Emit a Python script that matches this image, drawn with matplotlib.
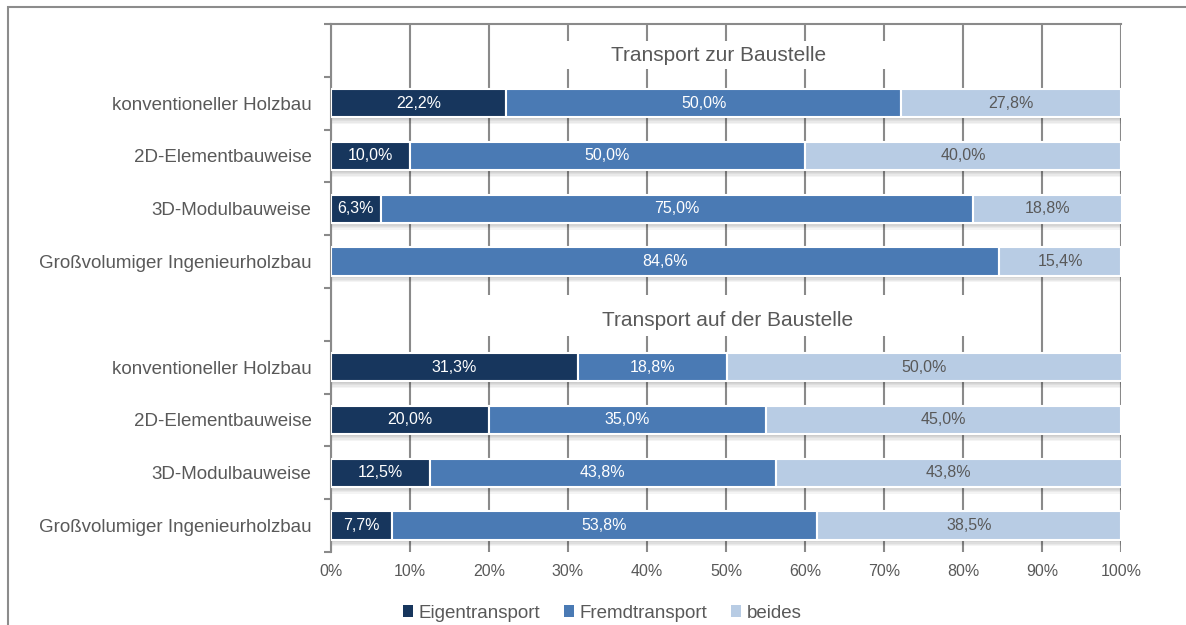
import matplotlib.pyplot as plt
from matplotlib.patches import Patch, Rectangle

plt.rcParams['font.family'] = ['Liberation Sans', 'DejaVu Sans']

# data
categories = ["konventioneller Holzbau", "2D-Elementbauweise",
              "3D-Modulbauweise", "Großvolumiger Ingenieurholzbau"]
group_titles = ["Transport zur Baustelle", "Transport auf der Baustelle"]
series_names = ["Eigentransport", "Fremdtransport", "beides"]

zur_eigen = [22.2, 10.0, 6.3, 0.0]
zur_fremd = [50.0, 50.0, 75.0, 84.6]
zur_beides = [27.8, 40.0, 18.8, 15.4]

auf_eigen = [31.3, 20.0, 12.5, 7.7]
auf_fremd = [18.8, 35.0, 43.8, 53.8]
auf_beides = [50.0, 45.0, 43.8, 38.5]

x_ticks = [0, 10, 20, 30, 40, 50, 60, 70, 80, 90, 100]

colors = ["#17365D", "#4A7AB4", "#B8CCE4"]
label_colors = ["white", "white", "#595959"]
grey = "#595959"
line_grey = "#8A8A8A"

fig = plt.figure(figsize=(11.86, 6.25), dpi=100)
ax = fig.add_axes([331/1186, 1-552/625, 790/1186, 528/625])

# outer frame of the picture
fig.patches.append(Rectangle((8/1186, -0.2), 1.2, 1.2 - 7/625, transform=fig.transFigure,
                             fill=False, edgecolor="#8C8C8C", linewidth=1.5))

groups = [(zur_eigen, zur_fremd, zur_beides), (auf_eigen, auf_fremd, auf_beides)]
rows = []
ylabels = []
for g, (e, f, b) in enumerate(groups):
    start = g * 5 + 1
    for i in range(len(categories)):
        rows.append((start + i, [e[i], f[i], b[i]]))
        ylabels.append(categories[i])

bar_h = 0.54
for y, vals in rows:
    left = 0
    for k, v in enumerate(vals):
        if v > 0:
            # soft shadow under each segment
            for s in range(1, 6):
                ax.barh(y + 0.025 * s, v, height=bar_h, left=left, color="black",
                        alpha=0.045, linewidth=0, zorder=2)
            ax.barh(y, v, height=bar_h, left=left, color=colors[k],
                    edgecolor="white", linewidth=1.5, zorder=3)
            ax.text(left + v / 2, y, f"{v:.1f}%".replace(".", ","), ha="center", va="center",
                    color=label_colors[k], fontsize=11.5, zorder=4)
        left += v

# group titles with white boxes covering the grid
ax.add_patch(Rectangle((25, 0 - 0.18), 50, 0.54, facecolor="white", edgecolor="none", zorder=1.5))
ax.text(49, 0.09, group_titles[0], ha="center", va="center", fontsize=15, color=grey, zorder=4)
ax.add_patch(Rectangle((15, 5 - 0.36), 70, 0.76, facecolor="white", edgecolor="none", zorder=1.5))
ax.text(50.2, 5.11, group_titles[1], ha="center", va="center", fontsize=15, color=grey, zorder=4)

ax.set_xlim(0, 100)
ax.set_ylim(9.5, -0.5)
ax.set_xticks(x_ticks)
ax.set_xticklabels([f"{t}%" for t in x_ticks], fontsize=11.5, color=grey)
ax.tick_params(axis="x", length=0, pad=9)
ax.tick_params(axis="x", which="both", top=True, labeltop=False)
ax.xaxis.grid(True, color=line_grey, linewidth=1.5, zorder=1)
ax.set_axisbelow(True)

# category boundaries as major ticks, labels on minor ticks
ax.set_yticks([i - 0.5 for i in range(11)])
ax.set_yticklabels([])
ax.set_yticks([r[0] for r in rows], minor=True)
ax.set_yticklabels(ylabels, minor=True, fontsize=13.5, color=grey)
ax.tick_params(axis="y", which="major", length=5, width=1.5, color=line_grey, direction="out")
ax.tick_params(axis="y", which="minor", length=0, pad=14)

for side in ["right", "bottom"]:
    ax.spines[side].set_visible(False)
for side in ["left", "top"]:
    ax.spines[side].set_color(line_grey)
    ax.spines[side].set_linewidth(1.5)

handles = [Patch(facecolor=c, edgecolor="none") for c in colors]
fig.legend(handles, series_names, loc="center", bbox_to_anchor=(0.508, 1 - 613/625), ncol=3,
           frameon=False, fontsize=13.5, labelcolor=grey, handlelength=0.55, handleheight=0.55,
           handletextpad=0.3, columnspacing=1.25)

fig.savefig("out.png", dpi=100)
